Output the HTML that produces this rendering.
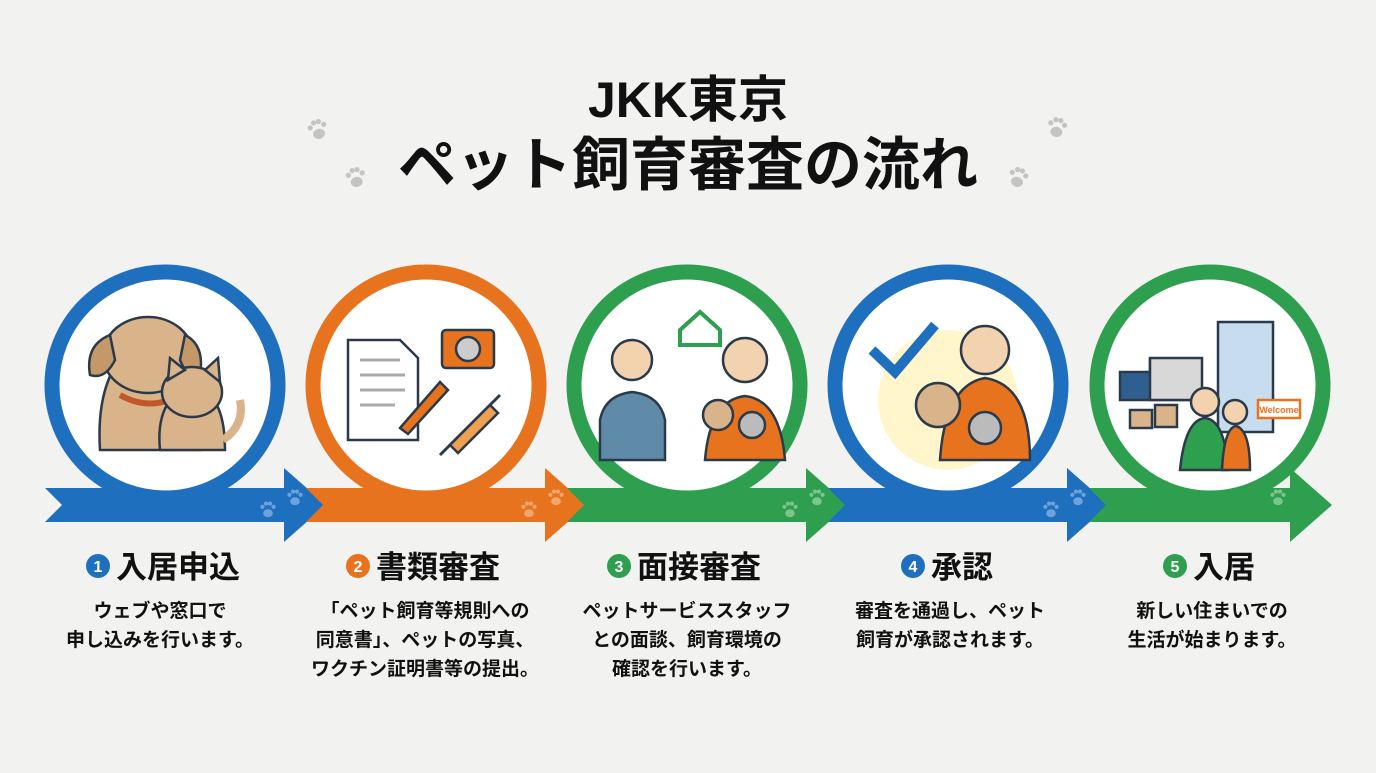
<!DOCTYPE html>
<html><head><meta charset="utf-8"><style>
html,body{margin:0;padding:0;background:#f2f2f1;}
body{width:1376px;height:768px;overflow:hidden;font-family:"Liberation Sans","Noto Sans CJK JP",sans-serif;}
text{font-family:"Liberation Sans","Noto Sans CJK JP",sans-serif;}
</style></head><body>
<svg width="1376" height="768" viewBox="0 0 1376 768" xmlns="http://www.w3.org/2000/svg">
<defs>
<g id="paw"><ellipse cx="0" cy="4" rx="6" ry="5"/><circle cx="-7" cy="-4" r="2.6"/><circle cx="-2.5" cy="-8" r="2.6"/><circle cx="2.5" cy="-8" r="2.6"/><circle cx="7" cy="-4" r="2.6"/></g>
</defs>
<rect width="1376" height="768" fill="#f2f2f1"/>
<text x="688" y="117" text-anchor="middle" font-size="50" font-weight="bold" fill="#111">JKK東京</text>
<text x="688" y="185" text-anchor="middle" font-size="58" font-weight="bold" fill="#111">ペット飼育審査の流れ</text>
<g fill="#c4c4c4"><use href="#paw" transform="translate(318,130) rotate(-15)"/><use href="#paw" transform="translate(356,178) rotate(-10)"/><use href="#paw" transform="translate(1057,128) rotate(10)"/><use href="#paw" transform="translate(1018,178) rotate(15)"/></g>

<g>
<path d="M45 488 H284 V468 L326 505 L284 542 V522 H45 L62 505 Z" fill="#1f6fbf"/>
<circle cx="165" cy="385" r="113" fill="#fff" stroke="#1f6fbf" stroke-width="15"/>
<g fill="#6da3dc"><use href="#paw" transform="translate(268,510) scale(0.8)"/><use href="#paw" transform="translate(295,498) scale(0.8)"/></g>
</g>
<g>
<path d="M306 488 H545 V468 L587 505 L545 542 V522 H306 L323 505 Z" fill="#e8731e"/>
<circle cx="426" cy="385" r="113" fill="#fff" stroke="#e8731e" stroke-width="15"/>
<g fill="#f2a66e"><use href="#paw" transform="translate(529,510) scale(0.8)"/><use href="#paw" transform="translate(556,498) scale(0.8)"/></g>
</g>
<g>
<path d="M567 488 H806 V468 L848 505 L806 542 V522 H567 L584 505 Z" fill="#2e9e4f"/>
<circle cx="687" cy="385" r="113" fill="#fff" stroke="#2e9e4f" stroke-width="15"/>
<g fill="#7cc58f"><use href="#paw" transform="translate(790,510) scale(0.8)"/><use href="#paw" transform="translate(817,498) scale(0.8)"/></g>
</g>
<g>
<path d="M828 488 H1067 V468 L1109 505 L1067 542 V522 H828 L845 505 Z" fill="#1f6fbf"/>
<circle cx="948" cy="385" r="113" fill="#fff" stroke="#1f6fbf" stroke-width="15"/>
<g fill="#6da3dc"><use href="#paw" transform="translate(1051,510) scale(0.8)"/><use href="#paw" transform="translate(1078,498) scale(0.8)"/></g>
</g>
<g>
<path d="M1089 488 H1290 V468 L1332 505 L1290 542 V522 H1089 L1106 505 Z" fill="#2e9e4f"/>
<circle cx="1210" cy="385" r="113" fill="#fff" stroke="#2e9e4f" stroke-width="15"/>
<g fill="#7cc58f"><use href="#paw" transform="translate(1278,498) scale(0.8)"/></g>
</g>

<g stroke="#2a3a4a" stroke-width="2.5">
<path d="M100 450 Q95 370 140 340 Q180 330 195 380 L200 450 Z" fill="#d9b48a"/>
<ellipse cx="148" cy="355" rx="45" ry="38" fill="#d9b48a"/>
<path d="M110 335 Q85 345 90 375 Q105 380 115 360 Z" fill="#c49868"/>
<path d="M185 335 Q205 345 200 375 Q188 380 180 360 Z" fill="#c49868"/>
<path d="M120 395 Q150 412 180 395" fill="none" stroke="#c0582a" stroke-width="6"/>
<path d="M160 450 Q155 400 190 385 Q225 390 225 450 Z" fill="#d9b48a"/>
<ellipse cx="192" cy="392" rx="30" ry="25" fill="#d9b48a"/>
<path d="M168 380 L170 358 L185 370 Z M205 370 L218 358 L220 382 Z" fill="#d9b48a"/>
<path d="M223 440 Q245 425 240 400" fill="none" stroke="#d9b48a" stroke-width="8"/>
<path d="M348 340 H400 L418 358 V440 H348 Z" fill="#fff"/>
<path d="M360 360 H400 M360 375 H405 M360 390 H405 M360 405 H395" stroke="#aaa" stroke-width="3"/>
<rect x="442" y="330" width="52" height="38" rx="4" fill="#e8731e"/>
<circle cx="468" cy="349" r="12" fill="#ccc"/>
<path d="M400 428 L440 382 L448 390 L408 434 Z" fill="#e8731e"/>
<path d="M440 455 L500 395" stroke-width="3"/>
<path d="M450 445 L490 405 L498 413 L458 453 Z" fill="#f0a050"/>
<path d="M680 330 L700 312 L720 330 V345 H680 Z" fill="#fff" stroke="#2e9e4f" stroke-width="4"/>
<circle cx="632" cy="360" r="20" fill="#f3d2b0"/>
<path d="M600 460 V420 Q605 395 632 392 Q660 395 665 420 V460 Z" fill="#5f8aa8"/>
<circle cx="745" cy="360" r="22" fill="#f3d2b0"/>
<path d="M705 460 Q710 400 745 396 Q780 400 785 460 Z" fill="#e8731e"/>
<circle cx="718" cy="415" r="15" fill="#d9b48a"/>
<circle cx="752" cy="425" r="13" fill="#bbb"/>
<circle cx="948" cy="400" r="70" fill="#fff6cc" stroke="none"/>
<path d="M872 350 L895 372 L935 325" fill="none" stroke="#1f6fbf" stroke-width="10"/>
<circle cx="985" cy="350" r="24" fill="#f3d2b0"/>
<path d="M940 460 Q945 385 985 378 Q1030 385 1030 460 Z" fill="#e8731e"/>
<circle cx="938" cy="405" r="22" fill="#d9b48a"/>
<circle cx="985" cy="428" r="16" fill="#bbb"/>
<rect x="1218" y="322" width="55" height="110" fill="#c8dcef"/>
<path d="M1120 372 H1150 V360 H1200 V400 H1120 Z" fill="#2f5f8f"/>
<rect x="1150" y="358" width="52" height="42" fill="#d8d8d8"/>
<rect x="1130" y="410" width="22" height="18" fill="#d9b48a"/>
<rect x="1155" y="405" width="22" height="22" fill="#d9b48a"/>
<circle cx="1205" cy="402" r="14" fill="#f3d2b0"/>
<path d="M1180 470 Q1185 420 1205 418 Q1225 420 1228 470 Z" fill="#2e9e4f"/>
<circle cx="1235" cy="412" r="12" fill="#f3d2b0"/>
<path d="M1222 470 Q1224 428 1236 426 Q1250 430 1250 470 Z" fill="#e8731e"/>
<rect x="1258" y="400" width="42" height="18" fill="#fff" stroke="#e8731e"/>
</g>
<text x="1279" y="413" text-anchor="middle" font-size="9" fill="#e8731e" font-weight="bold">Welcome</text>

<g font-weight="bold" fill="#111">
<g font-size="31">
<circle cx="98" cy="566" r="12" fill="#1f6fbf"/><text x="98" y="572" font-size="16" fill="#fff" text-anchor="middle">1</text><text x="116" y="578">入居申込</text>
<circle cx="358" cy="566" r="12" fill="#e8731e"/><text x="358" y="572" font-size="16" fill="#fff" text-anchor="middle">2</text><text x="376" y="578">書類審査</text>
<circle cx="619" cy="566" r="12" fill="#2e9e4f"/><text x="619" y="572" font-size="16" fill="#fff" text-anchor="middle">3</text><text x="637" y="578">面接審査</text>
<circle cx="913" cy="566" r="12" fill="#1f6fbf"/><text x="913" y="572" font-size="16" fill="#fff" text-anchor="middle">4</text><text x="931" y="578">承認</text>
<circle cx="1175" cy="566" r="12" fill="#2e9e4f"/><text x="1175" y="572" font-size="16" fill="#fff" text-anchor="middle">5</text><text x="1193" y="578">入居</text>
</g>
<g font-size="19" text-anchor="middle">
<text x="160" y="617">ウェブや窓口で</text><text x="160" y="646">申し込みを行います。</text>
<text x="425" y="617">「ペット飼育等規則への</text><text x="425" y="646">同意書」、ペットの写真、</text><text x="425" y="675">ワクチン証明書等の提出。</text>
<text x="687" y="617">ペットサービススタッフ</text><text x="687" y="646">との面談、飼育環境の</text><text x="687" y="675">確認を行います。</text>
<text x="950" y="617">審査を通過し、ペット</text><text x="950" y="646">飼育が承認されます。</text>
<text x="1212" y="617">新しい住まいでの</text><text x="1212" y="646">生活が始まります。</text>
</g>
</g>
</svg>
</body></html>
